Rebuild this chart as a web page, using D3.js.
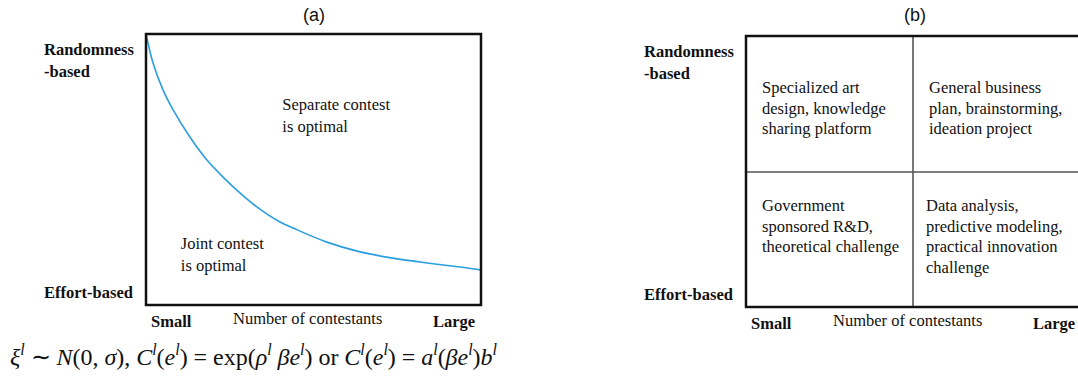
<html>

<head>
  <script src="https://d3js.org/d3.v7.min.js"></script>
  <style>
    body { margin: 0; background: #fff; }
    text { font-family: "Liberation Serif", "Times New Roman", serif; fill: #111; }
    .title { font-family: "Liberation Sans", Arial, sans-serif; font-size: 18px; }
    .axislab { font-weight: bold; font-size: 16.5px; }
    .note { font-size: 16.5px; }
  </style>
</head>

<body>
  <svg width="1078" height="379" id="fig"></svg>
  <script>
    // panel (a): boundary curve (x: contestants 0..1, y: effort 0 .. randomness 1)
    const curveX = [0, 0.021, 0.051, 0.081, 0.131, 0.182, 0.23, 0.281, 0.331, 0.4, 0.439, 0.54, 0.639, 0.737, 0.839, 0.937, 1.0];
    const curveY = [1.0, 0.893, 0.793, 0.72, 0.62, 0.535, 0.472, 0.413, 0.362, 0.306, 0.284, 0.232, 0.196, 0.173, 0.155, 0.14, 0.129];

    const regionLabelsA = [
      { lines: ["Separate contest", "is optimal"], x: 0.407, y: 0.72 },
      { lines: ["Joint contest", "is optimal"], x: 0.104, y: 0.205 }
    ];

    // panel (b): quadrants
    const quadCols = ["Small", "Large"];
    const quadRows = ["Randomness", "Effort"];
    const quadTexts = [
      { col: "Small", row: "Randomness", lines: ["Specialized art", "design, knowledge", "sharing platform"] },
      { col: "Large", row: "Randomness", lines: ["General business", "plan, brainstorming,", "ideation project"] },
      { col: "Small", row: "Effort", lines: ["Government", "sponsored R&D,", "theoretical challenge"] },
      { col: "Large", row: "Effort", lines: ["Data analysis,", "predictive modeling,", "practical innovation", "challenge"] }
    ];

    const yLabelsTop = ["Randomness", "-based"];
    const yLabelBottom = "Effort-based";
    const xLabels = ["Small", "Number of contestants", "Large"];

    const svg = d3.select("#fig");

    function drawAxisLabels(g, box) {
      g.append("text").attr("class", "axislab")
        .attr("x", box.left - 102).attr("y", box.top + 21).text(yLabelsTop[0]);
      g.append("text").attr("class", "axislab")
        .attr("x", box.left - 102).attr("y", box.top + 43).text(yLabelsTop[1]);
      g.append("text").attr("class", "axislab")
        .attr("x", box.left - 102).attr("y", box.bottom - 7).text(yLabelBottom);
      g.append("text").attr("class", "axislab")
        .attr("x", box.left + 5).attr("y", box.bottom + 22).text(xLabels[0]);
      g.append("text").attr("class", "note")
        .attr("x", box.left + 87).attr("y", box.bottom + 19).text(xLabels[1]);
      g.append("text").attr("class", "axislab")
        .attr("x", box.left + 287).attr("y", box.bottom + 22).text(xLabels[2]);
    }

    // ---------- panel (a)
    const boxA = { left: 146, right: 481, top: 34, bottom: 305 };
    const xA = d3.scaleLinear().domain([0, 1]).range([boxA.left, boxA.right]);
    const yA = d3.scaleLinear().domain([0, 1]).range([boxA.bottom, boxA.top]);

    const gA = svg.append("g");
    gA.append("text").attr("class", "title").attr("text-anchor", "middle")
      .attr("x", 314).attr("y", 21).text("(a)");

    const curveData = curveX.map((x, i) => [x, curveY[i]]);
    gA.append("path")
      .datum(curveData)
      .attr("fill", "none")
      .attr("stroke", "#2a9ee0")
      .attr("stroke-width", 1.6)
      .attr("d", d3.line().x(d => xA(d[0])).y(d => yA(d[1])).curve(d3.curveCatmullRom));

    gA.append("rect")
      .attr("x", xA(0)).attr("y", yA(1))
      .attr("width", xA(1) - xA(0)).attr("height", yA(0) - yA(1))
      .attr("fill", "none").attr("stroke", "#111").attr("stroke-width", 2.5);

    regionLabelsA.forEach(r => {
      r.lines.forEach((ln, i) => {
        gA.append("text").attr("class", "note")
          .attr("x", xA(r.x)).attr("y", yA(r.y) + i * 22).text(ln);
      });
    });
    drawAxisLabels(gA, boxA);

    // formula under panel (a)
    const formula = [
      ["ξ", "i"], ["l", "s"], [" ∼ ", "r"], ["N", "i"], ["(0, ", "r"], ["σ", "i"], ["), ", "r"],
      ["C", "i"], ["l", "s"], ["(", "r"], ["e", "i"], ["l", "s"], [") = exp(", "r"], ["ρ", "i"], ["l", "s"],
      [" β", "i"], ["e", "i"], ["l", "s"], [")  or  ", "r"],
      ["C", "i"], ["l", "s"], ["(", "r"], ["e", "i"], ["l", "s"], [") = ", "r"], ["a", "i"], ["l", "s"],
      ["(", "r"], ["β", "i"], ["e", "i"], ["l", "s"], [")", "r"], ["b", "i"], ["l", "s"]
    ];
    const ft = svg.append("text")
      .attr("x", 10).attr("y", 365)
      .style("font-size", "24px")
      .attr("textLength", 487).attr("lengthAdjust", "spacing");
    formula.forEach(([t, s], i) => {
      const sp = ft.append("tspan").text(t);
      if (s === "i") sp.style("font-style", "italic");
      if (s === "s") sp.style("font-style", "italic").style("font-size", "16px").attr("dy", -10);
      if (i > 0 && formula[i - 1][1] === "s" && s !== "s") sp.attr("dy", 10);
    });

    // ---------- panel (b)
    const boxB = { left: 746, right: 1082, top: 36, bottom: 307 };
    const xB = d3.scaleBand().domain(quadCols).range([boxB.left, 913 + (913 - boxB.left)]);
    const yB = d3.scaleBand().domain(quadRows).range([boxB.top, 172 + (172 - boxB.top)]);

    const gB = svg.append("g");
    gB.append("text").attr("class", "title").attr("text-anchor", "middle")
      .attr("x", 915).attr("y", 21).text("(b)");

    gB.append("line")
      .attr("x1", xB("Large")).attr("x2", xB("Large"))
      .attr("y1", boxB.top).attr("y2", boxB.bottom)
      .attr("stroke", "#555").attr("stroke-width", 1.6);
    gB.append("line")
      .attr("x1", boxB.left).attr("x2", boxB.right)
      .attr("y1", yB("Effort")).attr("y2", yB("Effort"))
      .attr("stroke", "#555").attr("stroke-width", 1.6);
    gB.append("rect")
      .attr("x", boxB.left).attr("y", boxB.top)
      .attr("width", boxB.right - boxB.left).attr("height", boxB.bottom - boxB.top)
      .attr("fill", "none").attr("stroke", "#111").attr("stroke-width", 2.5);

    quadTexts.forEach(q => {
      const x0 = xB(q.col) + (q.col === "Large" && q.row === "Effort" ? 13 : 16);
      const y0 = yB(q.row) + (q.row === "Randomness" ? 57 : 39);
      q.lines.forEach((ln, i) => {
        gB.append("text").attr("class", "note")
          .attr("x", x0).attr("y", y0 + i * 20.5).text(ln);
      });
    });
    drawAxisLabels(gB, boxB);
  </script>
</body>

</html>
